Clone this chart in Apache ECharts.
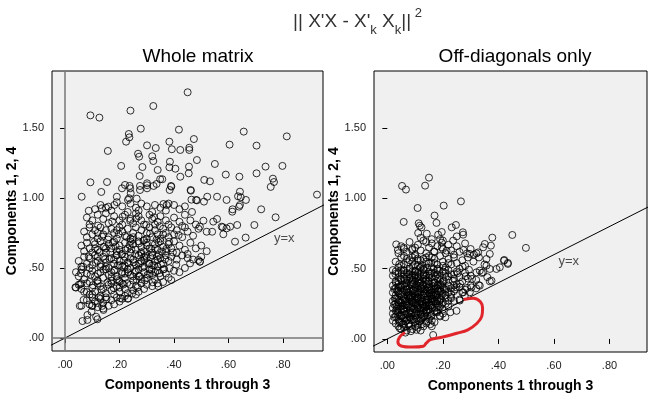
<!DOCTYPE html>
<html><head><meta charset="utf-8">
<script src="https://cdn.jsdelivr.net/npm/echarts@6/dist/echarts.min.js"></script>
<style>html,body{margin:0;padding:0;background:#fff}#c{width:655px;height:400px}</style>
</head><body><div id="c"></div>
<script>
const xTicks = [0, 0.2, 0.4, 0.6, 0.8];
const yTicks = [0, 0.5, 1.0, 1.5];
const panelTitles = ['Whole matrix', 'Off-diagonals only'];
const xAxisName = 'Components 1 through 3';
const yAxisName = 'Components 1, 2, 4';

// Whole matrix: sparse upper points
const leftOuter = [[.45,1.755],[.093,1.59],[.126,1.574],[.24,1.624],[.324,1.657],[.418,1.488],[.278,1.495],[.234,1.457],[.236,1.433],[.224,1.402],[.656,1.474],[.814,1.44],[.604,1.381],[.703,1.374],[.473,1.421],[.383,1.402],[.301,1.376],[.333,1.357],[.392,1.348],[.423,1.343],[.456,1.359],[.456,1.343],[.157,1.336],[.268,1.316],[.272,1.295],[.32,1.298],[.324,1.264],[.484,1.271],[.385,1.259],[.55,1.243],[.206,1.229],[.284,1.221],[.383,1.219],[.405,1.209],[.455,1.224],[.454,1.176],[.736,1.224],[.798,1.229],[.34,1.2],[.703,1.176],[.59,1.167],[.274,1.157],[.423,1.152],[.64,1.152],[.511,1.129],[.532,1.119],[.357,1.134],[.349,1.134],[.301,1.105],[.336,1.1],[.763,1.138],[.755,1.079],[.767,1.114],[.093,1.112],[.154,1.114],[.22,1.093],[.237,1.086],[.239,1.069],[.275,1.086],[.301,1.091],[.275,1.057],[.325,1.086],[.39,1.081],[.133,1.043],[.209,1.069],[.301,1.069],[.462,1.052],[.642,1.045],[.645,1.005],[.925,1.024],[.061,1.009],[.19,1.009],[.231,.986],[.263,.995],[.464,.988],[.484,.983],[.522,1.009],[.558,1.009],[.51,.974],[.593,.986],[.635,1.012],[.664,.986],[.087,.909],[.135,.926],[.159,.938],[.181,.95],[.72,.919],[.773,.862],[.614,.902],[.639,.938],[.558,.85],[.695,.807],[.632,.807],[.593,.783],[.606,.795],[.575,.795],[.544,.831],[.624,.688],[.663,.717],[.52,.759],[.54,.759],[.579,.791],[.581,.741],[.508,.838],[.495,.795],[.489,.557],[.495,.545],[.459,.533],[.466,.9],[.241,1.034],[.235,.998],[.461,1.057],[.481,.986],[.361,.957],[.373,.95],[.389,1.086],[.384,1.057],[.642,.95],[.615,.919]];
// Whole matrix: dense cloud
const leftCloud = [[.13,.95],[.15,.93],[.19,.97],[.21,.94],[.24,.96],[.26,.93],[.28,.96],[.3,.94],[.33,.95],[.35,.93],[.37,.91],[.4,.95],[.42,.92],[.17,.91],[.23,.9],[.27,.91],[.32,.9],[.11,.92],[.38,.96],[.44,.94],
[.08,.86],[.1,.84],[.12,.88],[.14,.85],[.16,.82],[.18,.87],[.2,.84],[.21,.81],[.22,.88],[.24,.85],[.25,.82],[.27,.87],[.28,.84],[.29,.81],[.31,.88],[.32,.85],[.34,.83],[.35,.87],[.37,.84],[.38,.81],[.4,.86],[.42,.83],[.44,.88],[.46,.84],[.48,.81],[.09,.81],[.15,.89],[.26,.89],[.33,.81],[.43,.8],
[.07,.76],[.08,.72],[.09,.79],[.1,.74],[.11,.77],[.12,.71],[.13,.79],[.14,.74],[.15,.77],[.16,.72],[.17,.78],[.18,.75],[.19,.71],[.2,.79],[.21,.76],[.22,.73],[.23,.78],[.24,.71],[.25,.75],[.26,.79],[.27,.73],[.28,.77],[.29,.7],[.3,.75],[.31,.79],[.32,.72],[.33,.77],[.34,.74],[.35,.71],[.36,.78],[.37,.75],[.38,.72],[.39,.79],[.4,.74],[.41,.77],[.43,.72],[.45,.76],[.47,.73],[.49,.78],[.12,.75],[.19,.77],[.25,.72],[.3,.71],[.36,.74],[.44,.79],
[.06,.66],[.07,.62],[.08,.68],[.09,.64],[.1,.61],[.11,.67],[.12,.63],[.13,.69],[.14,.65],[.15,.61],[.16,.67],[.17,.64],[.18,.69],[.19,.62],[.2,.66],[.21,.6],[.22,.68],[.23,.64],[.24,.61],[.25,.67],[.26,.63],[.27,.69],[.28,.65],[.29,.62],[.3,.68],[.31,.64],[.32,.61],[.33,.67],[.34,.63],[.35,.69],[.36,.65],[.37,.62],[.38,.67],[.39,.64],[.4,.69],[.41,.61],[.42,.66],[.44,.63],[.46,.68],[.48,.64],[.5,.66],[.52,.62],[.15,.64],[.2,.63],[.24,.69],[.28,.6],[.33,.64],[.11,.64],[.3,.66],[.45,.6],
[.05,.55],[.06,.51],[.07,.58],[.08,.53],[.09,.57],[.1,.52],[.11,.59],[.12,.55],[.13,.51],[.14,.58],[.15,.54],[.16,.5],[.17,.57],[.18,.53],[.19,.59],[.2,.55],[.21,.51],[.22,.58],[.23,.54],[.24,.5],[.25,.56],[.26,.52],[.27,.59],[.28,.55],[.29,.51],[.3,.57],[.31,.53],[.32,.59],[.33,.55],[.34,.51],[.35,.57],[.36,.53],[.37,.59],[.38,.55],[.39,.58],[.41,.56],[.43,.59],[.45,.57],[.47,.56],[.5,.58],[.12,.58],[.18,.56],[.24,.57],[.29,.58],[.34,.56],[.2,.52],[.27,.53],[.15,.51],[.32,.52],[.09,.5],
[.04,.47],[.05,.44],[.06,.49],[.07,.42],[.08,.46],[.09,.4],[.1,.48],[.11,.44],[.12,.41],[.13,.47],[.14,.43],[.15,.49],[.16,.45],[.17,.41],[.18,.48],[.19,.44],[.2,.4],[.21,.47],[.22,.43],[.23,.49],[.24,.45],[.25,.41],[.26,.48],[.27,.44],[.28,.42],[.29,.47],[.3,.43],[.31,.49],[.32,.45],[.33,.42],[.34,.48],[.35,.44],[.36,.49],[.37,.46],[.38,.43],[.4,.48],[.42,.47],[.44,.5],[.12,.46],[.17,.47],[.22,.46],[.27,.49],[.31,.46],[.19,.42],[.25,.44],
[.04,.36],[.05,.38],[.06,.35],[.07,.33],[.08,.39],[.09,.31],[.1,.36],[.11,.33],[.12,.39],[.13,.3],[.14,.35],[.15,.32],[.16,.38],[.17,.34],[.18,.31],[.19,.37],[.2,.33],[.21,.39],[.22,.35],[.23,.32],[.24,.38],[.25,.34],[.26,.37],[.27,.33],[.28,.39],[.29,.35],[.3,.38],[.32,.37],[.34,.39],[.36,.4],[.1,.31],[.13,.37],[.17,.39],[.2,.36],[.26,.31],
[.06,.23],[.08,.27],[.09,.24],[.1,.29],[.11,.26],[.12,.22],[.13,.28],[.14,.25],[.15,.29],[.16,.23],[.17,.27],[.18,.24],[.19,.29],[.2,.26],[.21,.28],[.22,.3],[.23,.28],[.12,.25],[.14,.21],[.1,.23],
[.064,.121],[.082,.129],[.082,.164],[.114,.152],[.119,.134],[.141,.2],[.097,.188],[.136,.229],[.099,.229],[.054,.229],[.038,.362],[.055,.383],[.06,.39],[.058,.462],[.066,.509],[.232,.283],[.342,.371],[.39,.414],[.383,.498],[.495,.545],
[.113,.537],[.127,.612],[.142,.488],[.158,.703],[.163,.562],[.171,.436],[.186,.654],[.193,.517],[.207,.598],[.214,.382],[.226,.721],[.231,.469],[.243,.633],[.252,.541],[.263,.417],[.271,.676],[.284,.503],[.296,.588],[.303,.452],[.317,.637],[.326,.519],[.338,.582],[.347,.463],[.356,.617],[.118,.406],[.134,.344],[.147,.563],[.152,.276],[.166,.613],[.178,.357],[.183,.488],[.197,.742],[.203,.284],[.216,.553],[.228,.392],[.237,.664],[.246,.317],[.258,.598],[.267,.362],[.276,.534],[.288,.694],[.293,.411],[.307,.533],[.312,.746],[.322,.398],[.331,.472],[.343,.683],[.352,.526],[.364,.492],[.372,.637],[.106,.686],[.121,.803],[.136,.724],[.144,.652],[.173,.832],[.189,.593],[.211,.866],[.222,.626],[.239,.837],[.248,.702],[.261,.854],[.279,.612],[.298,.808],[.314,.577],[.327,.862],[.336,.703],[.348,.798],[.367,.562],[.382,.688],[.396,.611],[.408,.523],[.417,.735],[.094,.452],[.087,.583],[.102,.377],[.079,.329],[.068,.272],[.124,.288],[.156,.397],[.208,.458],[.233,.533],[.256,.471],[.274,.442],[.291,.556],[.318,.487],[.344,.593],[.176,.682],[.131,.527],[.198,.409],[.219,.517]];

// Off-diagonals only: sparse points
const rightOuter = [[.053,1.089],[.067,1.063],[.136,1.091],[.15,1.148],[.109,.932],[.203,.949],[.265,.979],[.059,.833],[.17,.878],[.177,.826],[.113,.823],[.117,.806],[.123,.794],[.111,.754],[.142,.749],[.196,.761],[.183,.742],[.232,.794],[.247,.811],[.25,.73],[.237,.7],[.272,.759],[.273,.742],[.378,.721],[.45,.74],[.499,.648],[.032,.673],[.038,.633],[.059,.65],[.089,.633],[.196,.685],[.196,.652],[.168,.623],[.213,.628],[.274,.633],[.287,.609],[.321,.609],[.312,.6],[.351,.676],[.345,.652],[.373,.664],[.369,.605],[.421,.562],[.357,.569],[.42,.557],[.434,.541],[.369,.41],[.393,.498],[.405,.51],[.434,.534],[.369,.498],[.345,.474],[.357,.522],[.329,.384],[.165,.028],[.141,.123],[.16,.13],[.189,.166],[.209,.154],[.227,.19],[.249,.2],[.287,.363],[.273,.332],[.249,.367],[.297,.332],[.279,.308],[.261,.273],[.333,.486],[.321,.474],[.375,.415],[.333,.379],[.303,.367],[.327,.616],[.297,.605]];
// Off-diagonals only: dense core
const rightCloud = [[.04,.61],[.05,.66],[.07,.62],[.08,.69],[.09,.64],[.1,.6],[.11,.67],[.12,.63],[.13,.7],[.14,.61],[.15,.65],[.16,.68],[.17,.62],[.18,.66],[.19,.71],[.2,.64],[.21,.61],[.22,.67],[.23,.63],[.25,.66],[.26,.62],[.28,.68],[.3,.64],[.12,.72],[.14,.69],[.1,.65],[.06,.64],[.16,.71],[.2,.7],[.24,.6],
[.03,.55],[.04,.51],[.05,.58],[.06,.53],[.07,.57],[.08,.5],[.09,.55],[.1,.59],[.11,.52],[.12,.56],[.13,.5],[.14,.58],[.15,.54],[.16,.51],[.17,.57],[.18,.53],[.19,.59],[.2,.55],[.21,.51],[.22,.57],[.23,.53],[.24,.58],[.25,.54],[.26,.5],[.27,.56],[.28,.52],[.29,.58],[.31,.55],[.33,.58],[.35,.53],[.06,.59],[.08,.56],[.1,.53],[.12,.51],[.14,.55],[.16,.58],[.18,.5],[.2,.52],[.22,.54],[.05,.52],[.09,.58],[.13,.57],[.17,.54],[.11,.56],[.15,.59],
[.02,.45],[.03,.41],[.03,.48],[.04,.44],[.05,.49],[.05,.42],[.06,.46],[.07,.4],[.07,.47],[.08,.43],[.08,.49],[.09,.45],[.1,.41],[.1,.48],[.11,.44],[.12,.4],[.12,.47],[.13,.43],[.13,.49],[.14,.45],[.15,.41],[.15,.48],[.16,.44],[.17,.4],[.17,.47],[.18,.43],[.18,.49],[.19,.45],[.2,.41],[.2,.48],[.21,.44],[.22,.42],[.22,.49],[.23,.46],[.24,.43],[.25,.48],[.26,.44],[.27,.41],[.28,.47],[.29,.43],[.3,.45],[.32,.42],[.34,.47],[.36,.44],[.04,.47],[.06,.43],[.09,.42],[.11,.47],[.14,.42],[.16,.47],[.19,.42],[.21,.47],[.24,.46],[.07,.44],[.1,.45],[.13,.46],[.04,.41],[.08,.46],[.12,.44],[.15,.45],[.18,.46],[.06,.49],[.09,.48],[.11,.41],[.02,.49],
[.02,.33],[.02,.38],[.03,.31],[.03,.36],[.04,.34],[.04,.39],[.05,.32],[.05,.37],[.06,.3],[.06,.35],[.07,.33],[.07,.38],[.08,.31],[.08,.36],[.09,.34],[.09,.39],[.1,.32],[.1,.37],[.11,.3],[.11,.35],[.12,.33],[.12,.38],[.13,.31],[.13,.36],[.14,.34],[.14,.39],[.15,.32],[.15,.37],[.16,.3],[.16,.35],[.17,.33],[.17,.38],[.18,.31],[.18,.36],[.19,.34],[.19,.39],[.2,.32],[.2,.37],[.21,.35],[.22,.33],[.22,.38],[.23,.36],[.24,.34],[.25,.39],[.26,.37],[.28,.35],[.3,.38],[.32,.36],[.035,.345],[.055,.385],[.075,.305],[.095,.355],[.115,.395],[.135,.325],[.155,.345],[.175,.365],[.195,.305],[.045,.315],[.065,.375],[.085,.335],[.105,.385],[.125,.355],[.145,.305],[.165,.395],[.185,.335],[.205,.355],[.025,.355],[.055,.335],[.085,.385],[.115,.325],[.145,.365],[.175,.315],[.21,.31],[.23,.32],[.24,.38],[.27,.33],[.04,.37],[.07,.35],[.1,.34],[.13,.38],[.16,.33],[.19,.36],[.06,.39],[.09,.31],[.12,.36],[.15,.39],[.18,.38],
[.02,.22],[.02,.27],[.03,.2],[.03,.25],[.04,.23],[.04,.28],[.05,.21],[.05,.26],[.06,.24],[.06,.29],[.07,.22],[.07,.27],[.08,.2],[.08,.25],[.09,.23],[.09,.28],[.1,.21],[.1,.26],[.11,.24],[.11,.29],[.12,.22],[.12,.27],[.13,.2],[.13,.25],[.14,.23],[.14,.28],[.15,.21],[.15,.26],[.16,.24],[.16,.29],[.17,.22],[.17,.27],[.18,.25],[.19,.28],[.2,.26],[.21,.29],[.22,.27],[.23,.29],[.025,.245],[.045,.205],[.065,.265],[.085,.225],[.105,.285],[.125,.245],[.145,.205],[.165,.265],[.185,.225],[.035,.285],[.055,.235],[.075,.295],[.095,.255],[.115,.215],[.135,.275],[.155,.235],[.175,.295],[.035,.215],[.055,.275],[.075,.235],[.095,.215],[.115,.265],[.135,.225],[.155,.285],[.195,.245],[.04,.26],[.07,.24],[.1,.28],[.13,.22],[.16,.27],[.19,.23],[.21,.25],[.24,.27],[.06,.21],[.09,.26],[.12,.29],[.15,.24],[.18,.28],[.2,.21],[.08,.29],[.11,.22],[.14,.26],[.17,.2],[.03,.29],[.05,.23],[.26,.28],[.22,.23],
[.02,.13],[.02,.18],[.03,.11],[.03,.16],[.04,.14],[.04,.19],[.05,.12],[.05,.17],[.06,.15],[.06,.1],[.07,.13],[.07,.18],[.08,.11],[.08,.16],[.09,.14],[.09,.19],[.1,.12],[.1,.17],[.11,.15],[.11,.1],[.12,.13],[.12,.18],[.13,.16],[.14,.11],[.14,.19],[.15,.14],[.16,.17],[.17,.12],[.18,.19],[.025,.155],[.045,.115],[.065,.175],[.085,.135],[.105,.195],[.125,.155],[.035,.195],[.055,.145],[.075,.105],[.095,.165],[.115,.125],[.135,.185],[.155,.105],[.045,.165],[.065,.125],[.085,.185],[.105,.145],[.125,.105],[.145,.165],[.19,.16],[.2,.18],
[.04,.09],[.05,.07],[.06,.08],[.07,.06],[.08,.09],[.09,.07],[.1,.09],[.11,.08],[.12,.06],[.13,.09],[.065,.045],[.085,.055],[.105,.065],[.045,.075],[.16,.09],
[.043,.127],[.057,.213],[.062,.318],[.073,.412],[.081,.153],[.087,.267],[.093,.348],[.098,.456],[.104,.183],[.108,.292],[.113,.377],[.117,.503],[.122,.143],[.127,.236],[.132,.324],[.137,.418],[.141,.198],[.146,.282],[.151,.357],[.156,.463],[.161,.223],[.166,.312],[.171,.403],[.176,.252],[.181,.341],[.186,.432],[.192,.287],[.197,.383],[.033,.232],[.038,.337],[.047,.428],[.052,.163],[.067,.247],[.071,.353],[.077,.188],[.083,.297],[.089,.404],[.096,.138],[.101,.247],[.106,.334],[.112,.446],[.119,.207],[.124,.296],[.129,.387],[.134,.163],[.139,.258],[.144,.347],[.149,.437],[.154,.193],[.159,.306],[.164,.374],[.169,.278],[.174,.447],[.179,.223],[.184,.386],[.027,.287],[.031,.398],[.036,.176],[.041,.262],[.046,.372],[.051,.463],[.056,.108],[.061,.197],[.066,.283],[.072,.138],[.076,.327],[.082,.436],[.086,.173],[.091,.293],[.097,.392],[.102,.486],[.107,.228],[.111,.316],[.116,.413],[.121,.173],[.126,.267],[.131,.452],[.136,.352],[.142,.242],[.147,.412],[.152,.327],[.157,.162],[.162,.287],[.167,.497],[.172,.357],[.177,.193],[.187,.268],[.193,.337],[.203,.413],[.212,.362],[.221,.446],[.228,.298],[.236,.412],[.244,.352],[.253,.468],[.262,.393],[.271,.514],[.282,.446],[.294,.492],[.305,.427],[.029,.462],[.043,.532],[.058,.487],[.074,.546],[.092,.517],[.109,.572],[.126,.523],[.143,.508],[.158,.543],[.187,.487],[.207,.493],[.064,.417],[.079,.462],[.103,.428],[.133,.492]];

// Hand-drawn red annotation in the right panel
const redOutline = [[.279,.283],[.31,.29],[.335,.265],[.343,.22],[.34,.16],[.322,.11],[.29,.065],[.25,.04],[.2,.014],[.155,-.005],[.14,-.03],[.13,-.052],[.09,-.058],[.05,-.05],[.038,-.02],[.045,.015],[.06,.04]];
const identityLine = [[-0.2,-0.2],[1.2,1.2]];
const identityLabelPos = [[.805,.714],[.653,.55]];

const FONT = '"Liberation Sans", Arial, sans-serif';
const fmt = v => v.toFixed(2).replace(/^0\./, '.');

function xAxis(i, max) {
  return {
    type: 'value', gridIndex: i, min: -0.048, max: max,
    splitLine: {show: false},
    axisLine: {show: false},
    axisTick: {show: true, customValues: xTicks, length: 5, lineStyle: {color: '#000'}},
    axisLabel: {customValues: xTicks, formatter: fmt, color: '#222', fontSize: 11, margin: 8, fontFamily: FONT},
    name: xAxisName, nameLocation: 'middle', nameGap: 27,
    nameTextStyle: {fontWeight: 'bold', fontSize: 14, color: '#000', fontFamily: FONT}
  };
}
function yAxis(i) {
  return {
    type: 'value', gridIndex: i, min: -0.093, max: 1.907,
    splitLine: {show: false},
    axisLine: {show: false},
    axisTick: {show: true, customValues: yTicks, length: 5, lineStyle: {color: '#000'}},
    axisLabel: {customValues: yTicks, formatter: fmt, color: '#222', fontSize: 11, margin: 8, fontFamily: FONT},
    name: yAxisName, nameLocation: 'middle', nameGap: 28, nameRotate: 90,
    nameTextStyle: {fontWeight: 'bold', fontSize: 14, color: '#000', fontFamily: FONT}
  };
}
const pointStyle = {color: 'rgba(0,0,0,0)', borderColor: '#000', borderWidth: 1};
function scatter(i, data) {
  return {type: 'scatter', xAxisIndex: i, yAxisIndex: i, data: data, symbol: 'circle', symbolSize: 7,
    itemStyle: pointStyle, silent: true, z: 3};
}
function idLine(i) {
  return {type: 'line', xAxisIndex: i, yAxisIndex: i, data: identityLine, symbol: 'none', clip: true,
    lineStyle: {color: '#000', width: 1}, silent: true, z: 4};
}
function idLabel(i) {
  return {type: 'scatter', xAxisIndex: i, yAxisIndex: i, data: [identityLabelPos[i]], symbolSize: 0,
    label: {show: true, position: 'inside', formatter: 'y=x', color: '#222', fontSize: 13, fontFamily: FONT}, silent: true, z: 5};
}

const chart = echarts.init(document.getElementById('c'), null, {renderer: 'canvas'});
chart.setOption({
  animation: false,
  backgroundColor: '#fff',
  title: [
    {text: "|| X'X - X'{s|k} X{s|k}||{p| 2}", left: 288, top: 2,
     textStyle: {fontSize: 19, fontWeight: 'normal', color: '#333', fontFamily: FONT, lineHeight: 30,
       rich: {s: {fontSize: 13, color: '#333', fontFamily: FONT, verticalAlign: 'bottom', lineHeight: 22},
              p: {fontSize: 13, color: '#333', fontFamily: FONT, verticalAlign: 'top', lineHeight: 30}}}},
    {text: panelTitles[0], left: 193, top: 42, textAlign: 'center',
     textStyle: {fontSize: 19, fontWeight: 'normal', color: '#000', fontFamily: FONT}},
    {text: panelTitles[1], left: 510, top: 42, textAlign: 'center',
     textStyle: {fontSize: 19, fontWeight: 'normal', color: '#000', fontFamily: FONT}}
  ],
  grid: [
    {left: 52, top: 71, width: 271, height: 280, show: true, backgroundColor: '#f0f0f0', borderColor: '#000', borderWidth: 1, containLabel: false},
    {left: 374, top: 71, width: 273, height: 281, show: true, backgroundColor: '#f0f0f0', borderColor: '#000', borderWidth: 1, containLabel: false}
  ],
  xAxis: [xAxis(0, 0.947), xAxis(1, 0.935)],
  yAxis: [yAxis(0), yAxis(1)],
  series: [
    Object.assign(scatter(0, leftOuter.concat(leftCloud)), {
      markLine: {silent: true, symbol: 'none', label: {show: false}, animation: false,
        lineStyle: {color: '#777', type: 'solid', width: 1.5},
        data: [{xAxis: 0}, {yAxis: 0}]}
    }),
    idLine(0),
    idLabel(0),
    scatter(1, rightOuter.concat(rightCloud)),
    idLine(1),
    idLabel(1),
    {type: 'line', xAxisIndex: 1, yAxisIndex: 1, data: redOutline, smooth: 0.4, symbol: 'none', clip: true,
     lineStyle: {color: '#e0262b', width: 3, cap: 'round', join: 'round'}, silent: true, z: 6}
  ]
});
</script></body></html>
